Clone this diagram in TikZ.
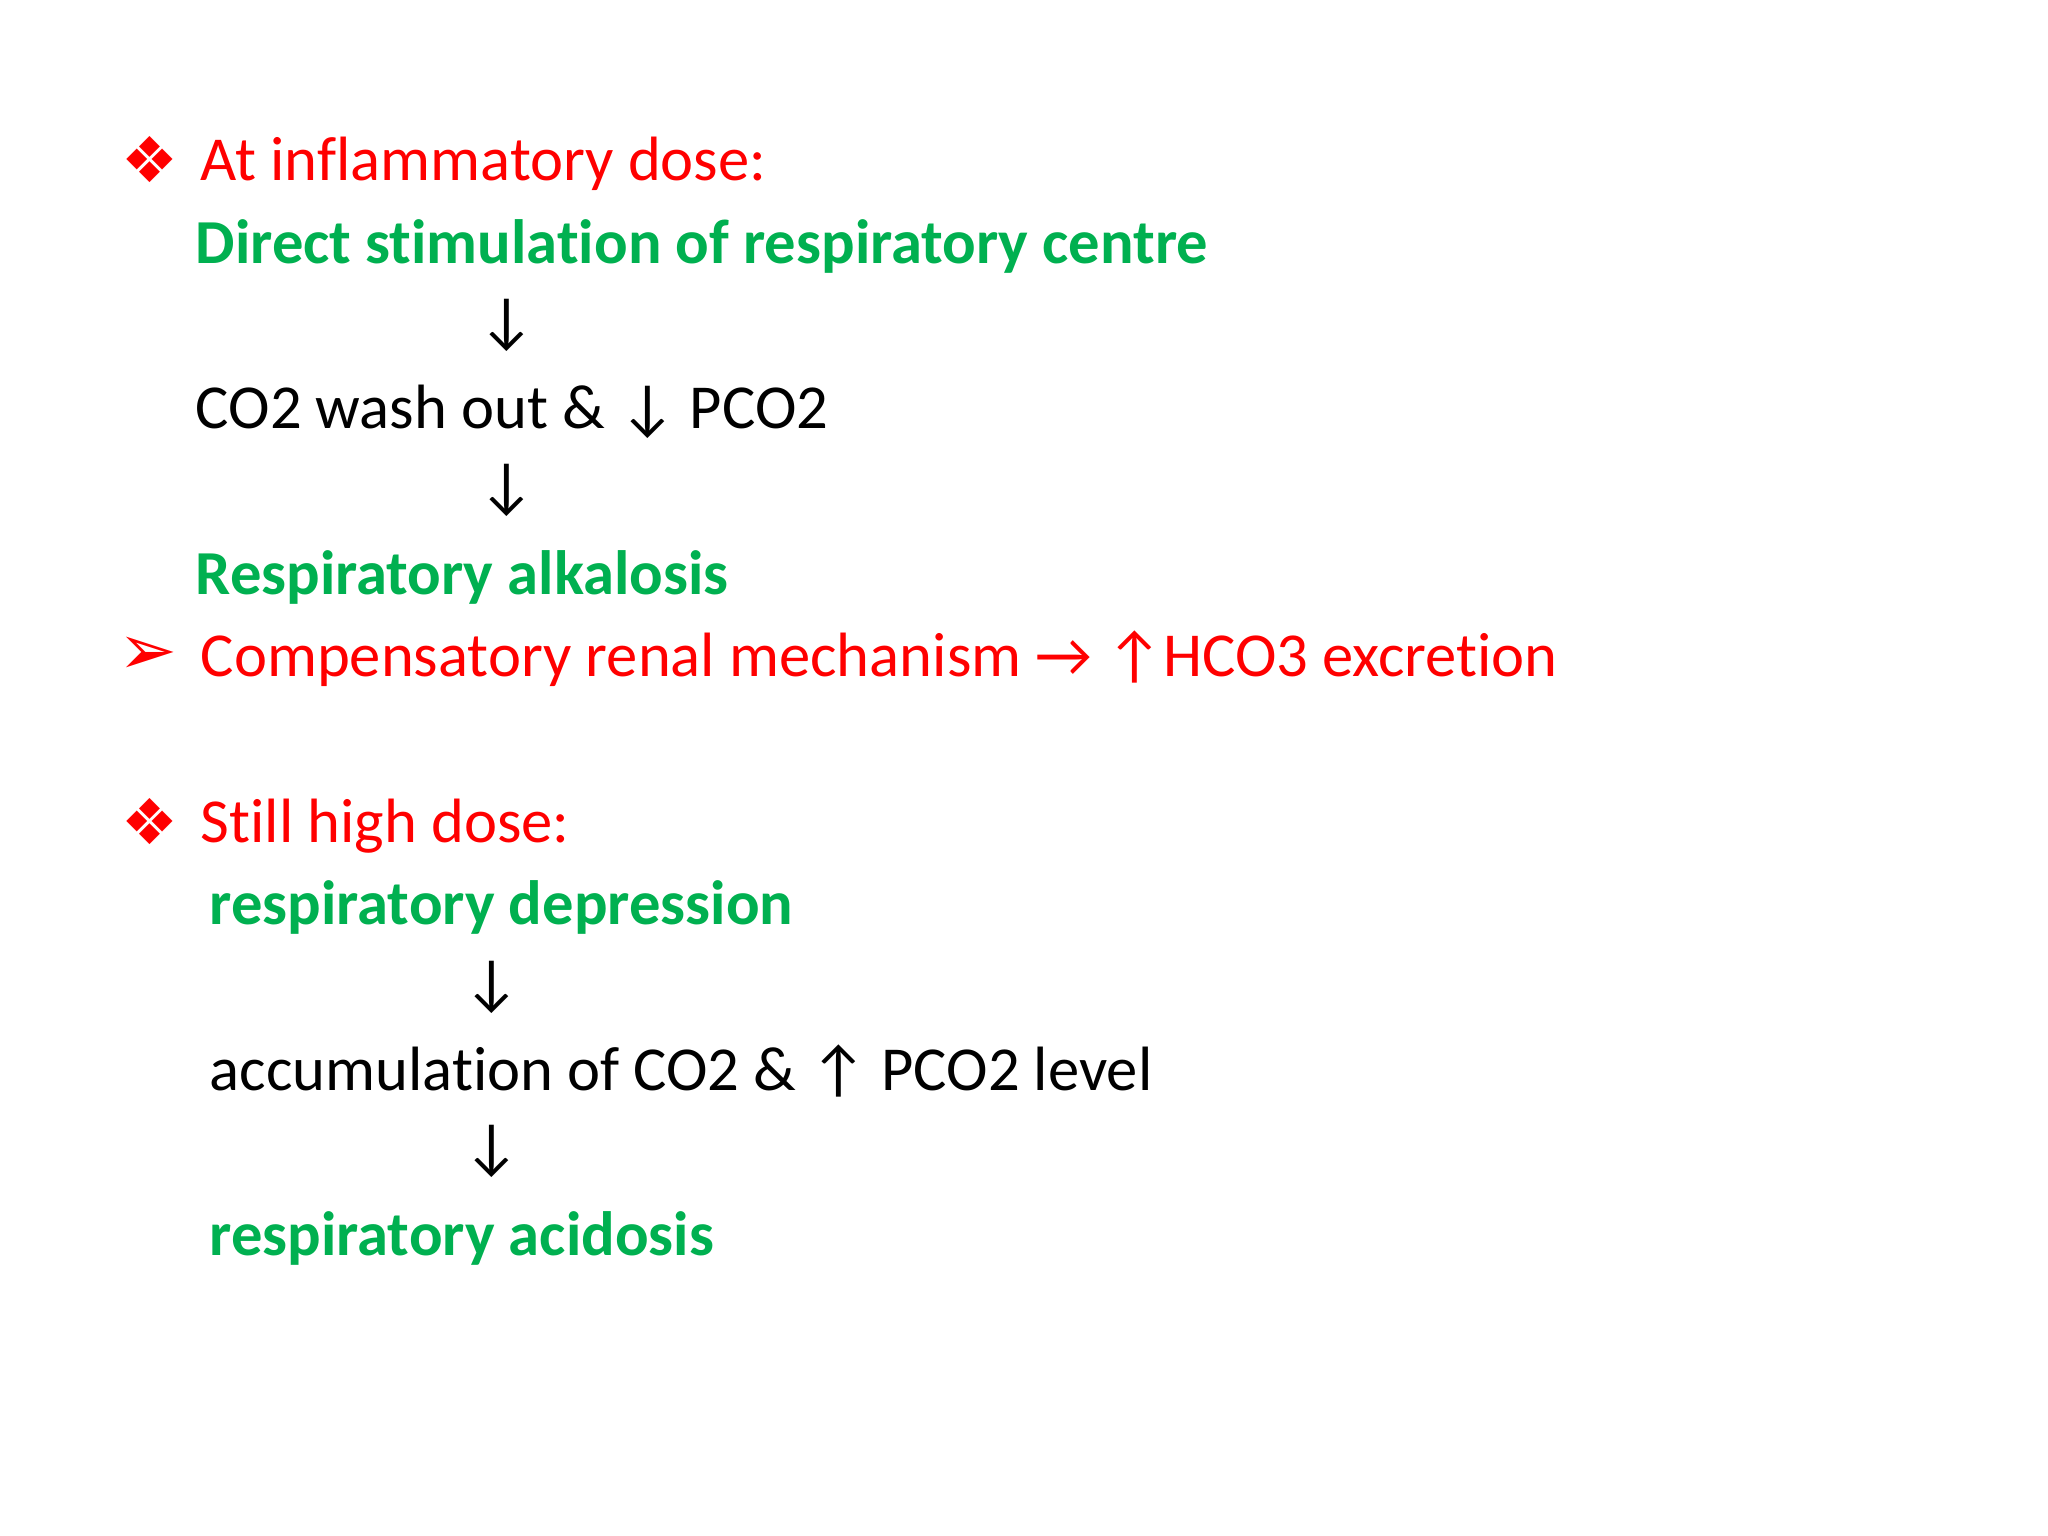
\documentclass[tikz,border=0pt]{standalone}
\usepackage{fontspec}
\setmainfont{Carlito}[Ligatures=NoCommon]
\newfontfamily\dingfont{DejaVu Sans}
\usetikzlibrary{positioning}
\definecolor{slidered}{RGB}{255,0,0}
\definecolor{slidegreen}{RGB}{0,176,80}
\tikzset{
  every node/.style={inner sep=0pt, font=\fontsize{17.8}{21}\selectfont},
  headline/.style={anchor=base west, text=slidered},
  effect/.style={anchor=base west, text=slidegreen, font=\fontsize{17.8}{21}\selectfont\bfseries},
  cause/.style={anchor=base west, text=black},
  down/.style={anchor=center, text=black},
  bullet/.style={anchor=center, text=slidered, font=\fontsize{18}{21}\selectfont\dingfont},
  pointer/.style={anchor=center, text=slidered, font=\fontsize{20}{24}\selectfont\dingfont}
}

\begin{document}
\begin{tikzpicture}[x=0.01cm,y=-0.01cm]
\useasboundingbox (0,0) rectangle (2048,1536);

% first stage
\node[bullet] (b1) at (150,160) {❖};
\node[headline] (inflam) at (200,180) {At inflammatory dose:};
\node[effect] (stim) at (195,263) {Direct stimulation of respiratory centre};
\node[down] (d1) at (507,325) {↓};
\node[cause] (wash) at (195,428) {CO2 wash out \& ↓ PCO2};
\node[down] (d2) at (507,490) {↓};
\node[effect] (alk) at (195,594) {Respiratory alkalosis};
\node[pointer] (b2) at (148,656) {➢};
\node[headline] (renal) at (200,676) {Compensatory renal mechanism → ↑HCO3 excretion};

% second stage
\node[bullet] (b3) at (150,822) {❖};
\node[headline] (high) at (200,842) {Still high dose:};
\node[effect] (depr) at (209,924) {respiratory depression};
\node[down] (d3) at (492,987) {↓};
\node[cause] (accum) at (209,1090) {accumulation of CO2 \& ↑ PCO2 level};
\node[down] (d4) at (492,1151) {↓};
\node[effect] (acid) at (209,1255) {respiratory acidosis};
\end{tikzpicture}
\end{document}
